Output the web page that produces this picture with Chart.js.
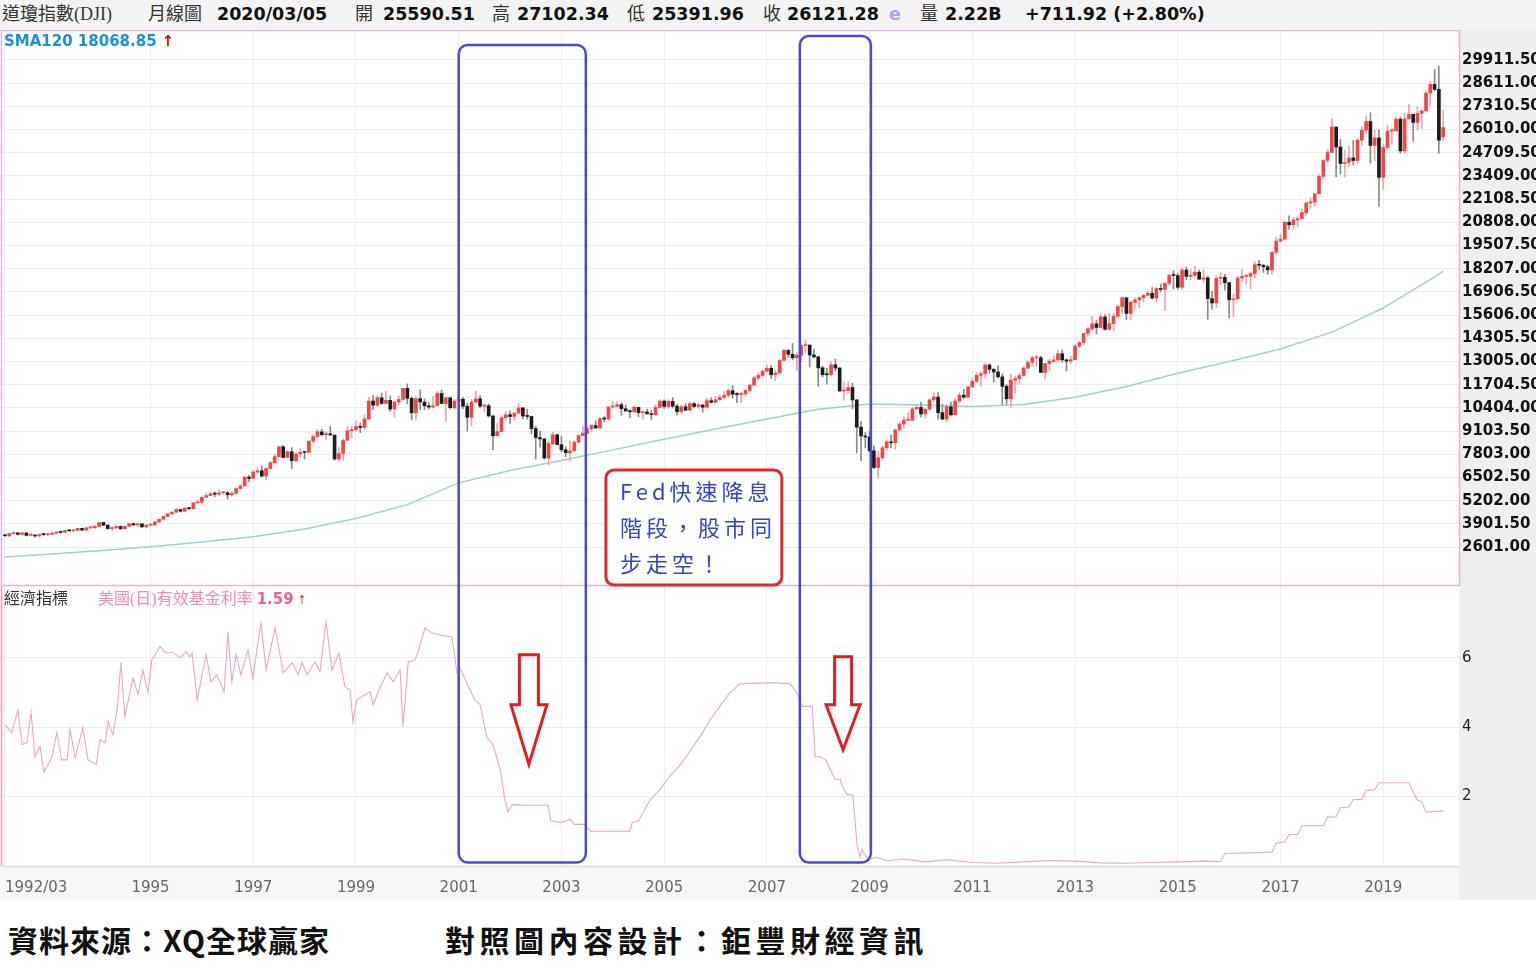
<!DOCTYPE html>
<html>
<head>
<meta charset="utf-8">
<script src="https://cdn.jsdelivr.net/npm/chart.js@4.4.0/dist/chart.umd.min.js"></script>
<style>
body{margin:0;width:1536px;height:968px;background:#fff;overflow:hidden;position:relative;font-family:"DejaVu Sans",sans-serif}
#wrap{position:absolute;left:0;top:0;width:1536px;height:900px}
#head{position:absolute;left:0;top:0;width:1536px;height:30px;background:#f3f3f3}
.t{position:absolute;white-space:nowrap;line-height:28px;top:0}
.ming{font-family:"Liberation Serif","Noto Sans CJK TC",serif;font-size:18px;color:#333}
.num{font-family:"DejaVu Sans",sans-serif;font-weight:bold;font-size:17.5px;color:#111}
.foot{position:absolute;top:917px;font-family:"Noto Sans CJK TC",sans-serif;font-weight:700;font-size:30px;color:#111;white-space:nowrap}
</style>
</head>
<body>
<div id="wrap"><canvas id="chart" width="1536" height="900"></canvas></div>
<div id="head">
  <span class="t ming" style="left:2px">道瓊指數(DJI)</span>
  <span class="t ming" style="left:148px">月線圖</span>
  <span class="t num" style="left:217px">2020/03/05</span>
  <span class="t ming" style="left:355px">開</span>
  <span class="t num" style="left:383px">25590.51</span>
  <span class="t ming" style="left:492px">高</span>
  <span class="t num" style="left:517px">27102.34</span>
  <span class="t ming" style="left:627px">低</span>
  <span class="t num" style="left:652px">25391.96</span>
  <span class="t ming" style="left:763px">收</span>
  <span class="t num" style="left:787px">26121.28</span>
  <span class="t num" style="left:889px;color:#b79af2">e</span>
  <span class="t ming" style="left:920px">量</span>
  <span class="t num" style="left:945px">2.22B</span>
  <span class="t num" style="left:1025px">+711.92 (+2.80%)</span>
</div>
<div class="t" style="left:4px;top:27px;font-weight:bold;font-size:15px;color:#1d8fd6">SMA120 18068.85<span style="color:#e00000"> ↑</span></div>
<div class="t" style="left:4px;top:585px;font-family:'Liberation Serif','Noto Sans CJK TC',serif;font-size:16px;color:#333">經濟指標</div>
<div class="t" style="left:98px;top:585px;font-family:'Liberation Serif','Noto Sans CJK TC',serif;font-size:16px;color:#f08cb6">美國(日)有效基金利率 <span style="font-family:'DejaVu Sans';font-weight:bold;font-size:15px;color:#f0609a">1.59</span><span style="font-weight:bold;color:#e00000"> ↑</span></div>
<div class="foot" style="left:8px;letter-spacing:1px">資料來源：XQ全球贏家</div>
<div class="foot" style="left:445px;letter-spacing:4.5px">對照圖內容設計：鉅豐財經資訊</div>
<script>
// 月線資料：索引 0 = 1992/03，最後一根 = 2020/03
const closes = [
  3236,3359,3397,3319,3394,3257,3272,3226,3305,3301,
  3310,3371,3435,3428,3527,3516,3540,3651,3555,3681,3684,3754,
  3978,3832,3636,3682,3758,3625,3765,3913,3843,3908,3739,3834,
  3844,4011,4158,4321,4465,4556,4709,4611,4789,4756,5075,5117,
  5395,5486,5588,5569,5643,5655,5529,5616,5882,6029,6522,6448,
  6813,6878,6584,7009,7331,7673,8223,7622,7945,7442,7823,7908,
  7907,8546,8800,9063,8900,8952,8883,7539,7843,8592,9117,9181,
  9359,9307,9786,10789,10560,10971,10655,10829,10337,10730,10878,11497,
  10941,10128,10922,10734,10522,10448,10522,11215,10651,10971,10415,10787,
  10887,10495,9879,10735,10912,10502,10523,9950,8848,9075,9852,10022,
  9920,10106,10404,9946,9925,9243,8737,8664,7592,8397,8896,8342,
  8054,7891,7992,8480,8850,8985,9234,9416,9275,9801,9782,10454,
  10488,10584,10358,10226,10188,10435,10140,10174,10080,10027,10428,10783,
  10490,10766,10504,10193,10467,10275,10641,10482,10569,10440,10806,10718,
  10865,10993,11109,11367,11168,11150,11186,11381,11679,12081,12222,12463,
  12622,12269,12354,13063,13628,13409,13212,13358,13896,13930,13372,13265,
  12650,12266,12263,12820,12638,11350,11378,11544,10851,9325,8829,8776,
  8001,7063,7609,8168,8500,8447,9172,9496,9712,9713,10345,10428,
  10067,10325,10857,11009,10137,9774,10466,10015,10788,11118,11006,11578,
  11892,12226,12320,12811,12570,12414,12143,11614,10913,11955,12046,12218,
  12633,12952,13212,13214,12393,12880,13009,13091,13437,13096,13026,13104,
  13861,14054,14579,14840,15116,14910,15500,14810,15130,15546,16086,16577,
  15699,16322,16458,16581,16717,16827,16563,17098,17043,17391,17828,17823,
  17165,18133,17776,17841,18011,17620,17690,16528,16285,17664,17720,17425,
  16466,16517,17685,17774,17787,17930,18432,18401,18308,18142,19124,19763,
  19864,20812,20663,20941,21009,21350,21891,21948,22405,23377,24272,24719,
  26149,25029,24103,24163,24416,24271,25415,25965,26458,25116,25538,23327,
  24999,25916,25929,26593,24815,26600,26864,26403,26917,27046,28051,28538,
  28256,25409,26121.28
];
const highs = [
  3290,3380,3420,3415,3420,3400,3385,3280,3320,3345,
  3340,3450,3485,3480,3555,3560,3575,3660,3660,3700,3720,3800,
  3990,3980,3850,3730,3790,3780,3780,3930,3955,3940,3910,3860,
  3900,4020,4170,4330,4470,4590,4730,4700,4800,4820,5100,5220,
  5400,5630,5700,5690,5800,5730,5700,5730,5920,6120,6550,6620,
  6890,7050,7160,7060,7400,7800,8260,8300,8000,8180,7900,8150,
  7970,8550,8900,9200,9210,9070,9370,8790,8200,8650,9380,9380,
  9650,9560,10010,11000,11110,11080,11230,11330,11080,10780,11090,11500,
  11750,11030,11050,11430,10900,10700,11020,11330,11400,10990,11000,10900,
  11030,11000,10650,10880,11340,11080,10630,10620,10000,9550,9980,10190,
  10240,10150,10670,10440,10340,9940,9380,9100,8700,8550,9050,8920,
  8800,8230,8550,8550,8900,9350,9380,9480,9690,9850,9910,10460,
  10750,10750,10680,10570,10300,10500,10450,10230,10340,10240,10580,10870,
  10860,10850,10980,10600,10560,10650,10700,10700,10680,10580,10940,10980,
  11050,11140,11330,11480,11670,11260,11290,11480,11720,12170,12350,12520,
  12800,12790,12510,13120,13690,13700,14020,13500,14000,14200,13760,13700,
  13300,12750,12620,13010,13140,12670,11870,11870,11790,10880,9650,9030,
  9090,8280,7960,8260,8600,8880,9200,9620,9920,10120,10410,10580,
  10730,10400,10900,11260,11260,10590,10590,10720,10950,11250,11450,11630,
  12040,12390,12420,12880,12880,12600,12760,12310,11720,12280,12190,12330,
  12740,13060,13290,13340,13290,12900,13140,13330,13650,13660,13160,13300,
  13970,14150,14590,14890,15540,15320,15660,15640,15710,15680,16170,16590,
  16590,16400,16600,16630,16740,16960,17150,17150,17350,17400,17890,18100,
  17950,18250,18290,18170,18350,18130,18140,17790,16940,17800,17980,17890,
  17410,16790,17790,18170,17890,18020,18620,18670,18450,18400,19150,19990,
  20130,20850,21170,21070,21110,21540,21930,22180,22420,23490,24330,24880,
  26620,26010,25450,24860,25090,25400,25500,26170,26770,26950,25980,25980,
  25190,26240,26110,26700,26700,26910,27400,26870,27300,27120,28170,28700,
  29370,29570,27102.34
];
const lows = [
  3195,3180,3330,3270,3270,3220,3210,3140,3190,3250,
  3240,3300,3340,3360,3420,3460,3430,3525,3520,3540,3620,3650,
  3740,3800,3590,3520,3620,3610,3620,3740,3820,3740,3670,3680,
  3790,3830,3980,4150,4320,4430,4550,4570,4600,4690,4750,5070,
  5000,5370,5460,5420,5450,5560,5300,5440,5600,5860,6020,6270,
  6430,6700,6530,6390,7000,7250,7670,7600,7600,7000,7390,7650,
  7540,7900,8450,8730,8850,8630,8870,7460,7400,7470,8560,8700,
  9100,9020,9210,9730,10300,10470,10610,10630,10200,9880,10580,10830,
  10640,9730,9730,10300,10300,10330,10420,10600,10650,9650,10340,10300,
  10510,10360,9100,9390,10650,10400,10180,9900,8060,8800,9200,9710,
  9540,9680,10100,9780,9770,8950,7530,8200,7530,7200,8320,8340,
  7940,7670,7420,7990,8430,8900,8930,9070,9270,9300,9600,9700,
  10400,10450,9990,10220,9850,10150,9910,9780,10040,9750,10010,10420,
  10370,10380,10400,10010,10060,10250,10260,10400,10380,10160,10400,10680,
  10660,10830,10900,10990,10960,10700,10700,11050,11300,11670,11950,12140,
  12400,12050,11930,12370,13020,13240,13100,12510,12980,13500,12700,13200,
  11630,12140,11730,12200,12480,11340,10830,11220,10360,7880,7450,8150,
  7910,7000,6470,7500,8020,8170,8080,9120,9250,9680,9680,10330,
  9900,9840,10320,10770,9770,9750,9610,9960,10000,10680,10930,10980,
  11550,11850,11610,12090,12360,11860,12080,10600,10600,10400,11230,11730,
  12200,12600,12740,12710,12390,12030,12490,12980,13070,12970,12470,12880,
  13100,13780,13940,14410,14730,14550,14890,14760,14780,14720,15480,15700,
  15340,15340,16000,16020,16330,16650,16500,16330,16900,15860,17280,17070,
  17040,17040,17590,17590,17730,17590,17460,15370,15940,16020,17320,17000,
  15450,15500,16450,17480,17330,17060,17710,18170,17990,17880,17880,19020,
  19680,19830,20410,20380,20550,20990,21200,21600,21710,22420,23240,24140,
  24720,23360,23510,23340,23920,24020,24080,25120,25820,24120,24270,21710,
  22640,24890,25200,25980,24680,24680,26640,25340,25980,26050,27080,27320,
  28170,24680,25391.96
];
const firstOpen = 3267;
const lastOpen = 25590.51;

// SMA120（讀圖取點）
const smaMonth = [0,10,22,34,46,58,70,82,94,106,118,130,142,154,166,178,190,202,214,226,238,250,262,274,286,298,310,322,334,336];
const smaValue = [2050,2200,2400,2620,2880,3180,3620,4200,4980,6200,6900,7450,8050,8650,9220,9780,10330,10620,10560,10480,10600,11000,11600,12350,13000,13700,14650,16000,17750,18068.85];

// 美國有效基金利率（讀圖取點，x 為 1992/03 起的月數）
const rateMonth = [0,1.6,3.0,4.0,5.1,6.1,7.0,8.2,9.1,11.0,12.1,13.3,14.5,15.2,16.4,18.2,19.4,21.3,22.2,23.4,24.1,25.2,26.2,27.1,28.0,29.9,31.1,32.2,33.4,34.3,36.2,37.6,39.0,40.9,42.3,43.2,43.7,44.9,47.0,48.1,49.5,51.2,52.1,53.0,54.0,55.1,56.8,57.9,59.8,61.0,63.1,65.0,67.1,68.5,69.4,70.6,72.4,73.6,75.0,76.4,78.0,79.4,80.6,81.3,82.2,85.3,86.0,87.6,89.3,90.7,92.3,93.0,94.2,95.8,96.5,98.1,99.8,101.6,104.4,105.6,106.3,108.6,
  109.8,111,112.6,114,115.7,116.8,117.5,118.5,122,126.9,127.5,130,132,133,135.5,136.7,146,146.5,148,150.7,153,155.4,158,160,162.5,164.7,167,169.4,171.7,176,180,183.4,185,186.2,188.6,189.3,190.4,191.8,193.9,195.1,195.6,196.8,198.1,199.1,199.8,200.2,201.6,203.7,206,210,215,220,226,232,238,244,250,256,262,268,274,280,284,285,296,297,299,300,302,303,308,309,311,312,314,315,317,318,320,321,327,328,329,330,331,332,336];
const rateValue = [4.07,3.84,4.50,3.50,3.55,4.42,3.15,3.44,2.70,3.15,3.84,3.06,3.06,3.93,3.12,3.99,3.06,2.92,3.64,3.55,4.16,3.78,4.50,5.88,4.30,5.42,4.94,5.65,5.00,5.94,6.32,6.14,6.17,6.00,6.17,6.03,6.14,4.79,6.09,5.31,5.51,5.02,6.75,5.31,6.09,5.51,6.23,5.42,7.01,5.65,6.86,5.57,5.86,5.51,5.86,5.51,5.88,5.60,7.04,5.65,6.14,5.17,5.08,4.16,4.79,5.02,4.65,5.14,5.57,5.31,5.65,4.01,5.88,5.94,6.17,6.86,6.72,6.66,6.60,5.57,5.71,5.08,
  4.79,4.65,3.70,3.50,2.78,1.90,1.57,1.77,1.75,1.75,1.30,1.25,1.35,1.20,1.20,1.00,1.00,1.25,1.30,1.90,2.20,2.60,2.95,3.30,3.75,4.20,4.60,5.00,5.25,5.27,5.28,5.25,5.00,4.60,4.60,3.15,3.15,3.05,2.50,2.50,2.30,2.05,2.05,0.57,0.27,0.47,0.19,0.25,0.15,0.20,0.12,0.18,0.10,0.08,0.12,0.16,0.14,0.09,0.08,0.10,0.12,0.14,0.13,0.36,0.40,0.66,0.70,0.91,0.91,1.16,1.16,1.41,1.42,1.68,1.70,1.91,1.92,2.18,2.20,2.40,2.40,2.40,2.13,1.90,1.85,1.55,1.59];

// 座標軸刻度
const priceTicks = [2601.00,3901.50,5202.00,6502.50,7803.00,9103.50,10404.00,11704.50,13005.00,14305.50,15606.00,16906.50,18207.00,19507.50,20808.00,22108.50,23409.00,24709.50,26010.00,27310.50,28611.00,29911.50];
const rateTicks = [2,4,6];
const xTickMonths = [0,34,58,82,106,130,154,178,202,226,250,274,298,322];
const xTickLabels = ['1992/03','1995','1997','1999','2001','2003','2005','2007','2009','2011','2013','2015','2017','2019'];

// 標註
const focusBoxes = [{from:106.0, to:135.7, top:30750}, {from:185.7, to:202.3, top:31250}];
const noteBox = {from:140.4, to:181.5, top:6920, lines:['Fed快速降息','階段，股市同','步走空！']};
const downArrows = [{at:122.4, top:6.09, neck:4.65, tip:2.93, sw:9.5, hw:18}, {at:195.8, top:6.03, neck:4.65, tip:3.35, sw:8.5, hw:17}];

const opens = closes.map((c, i) => i === 0 ? firstOpen : closes[i - 1]);
opens[opens.length - 1] = lastOpen;
const isUp = closes.map((c, i) => c >= opens[i]);
const wickPts = closes.map((c, i) => ({x: i, y: [lows[i], highs[i]]}));
const bodyPts = closes.map((c, i) => ({x: i, y: [opens[i], c]}));
const smaPts = smaMonth.map((m, i) => ({x: m, y: smaValue[i]}));
const ratePts = rateMonth.map((m, i) => ({x: m, y: rateValue[i]}));

function roundRect(ctx, x, y, w, h, r) {
    ctx.beginPath();
    ctx.moveTo(x + r, y);
    ctx.arcTo(x + w, y, x + w, y + h, r);
    ctx.arcTo(x + w, y + h, x, y + h, r);
    ctx.arcTo(x, y + h, x, y, r);
    ctx.arcTo(x, y, x + w, y, r);
    ctx.closePath();
}

const overlay = {
    id: 'overlay',
    beforeDraw(chart) {
        const {ctx, chartArea: a, width, height} = chart;
        ctx.save();
        ctx.fillStyle = '#fff';
        ctx.fillRect(0, 0, width, height);
        ctx.fillStyle = '#efefef';
        ctx.fillRect(a.right, 0, width - a.right, height);
        ctx.fillStyle = '#f7f7f7';
        ctx.fillRect(0, a.bottom, a.right, height - a.bottom);
        ctx.restore();
    },
    afterDraw(chart) {
        const {ctx, chartArea: a} = chart;
        const xs = chart.scales.x, yp = chart.scales.yPrice, yr = chart.scales.yRate;
        ctx.save();
        // X 軸文字（第一個靠左）
        ctx.fillStyle = '#666';
        ctx.font = '15px "DejaVu Sans"';
        ctx.textBaseline = 'middle';
        xTickMonths.forEach((m, i) => {
            ctx.textAlign = i === 0 ? 'left' : 'center';
            ctx.fillText(xTickLabels[i], xs.getPixelForValue(m), a.bottom + 22);
        });
        ctx.textAlign = 'left';

        // 邊框
        ctx.strokeStyle = '#e2b2e2';
        ctx.lineWidth = 1.5;
        ctx.strokeRect(a.left - 0.5, a.top - 0.5, a.right - a.left + 1, yp.bottom - a.top);
        ctx.strokeStyle = '#dddddd';
        ctx.beginPath();
        ctx.moveTo(a.left, a.bottom + 0.5); ctx.lineTo(a.right, a.bottom + 0.5);
        ctx.stroke();
        ctx.strokeStyle = '#e8a0a8';
        ctx.beginPath();
        ctx.moveTo(a.left - 0.5, yr.top); ctx.lineTo(a.left - 0.5, a.bottom);
        ctx.stroke();

        // 藍框
        ctx.strokeStyle = '#4a4ad0';
        ctx.lineWidth = 2.5;
        focusBoxes.forEach(b => {
            const x1 = xs.getPixelForValue(b.from), x2 = xs.getPixelForValue(b.to);
            const y1 = yp.getPixelForValue(b.top), y2 = yr.getPixelForValue(0.1);
            roundRect(ctx, x1, y1, x2 - x1, y2 - y1, 9);
            ctx.stroke();
        });

        // 紅色文字框
        const nx1 = xs.getPixelForValue(noteBox.from), nx2 = xs.getPixelForValue(noteBox.to);
        const ny1 = yp.getPixelForValue(noteBox.top), ny2 = yp.bottom - 1;
        roundRect(ctx, nx1, ny1, nx2 - nx1, ny2 - ny1, 8);
        ctx.fillStyle = '#fff';
        ctx.fill();
        ctx.strokeStyle = '#e02830';
        ctx.lineWidth = 3;
        ctx.stroke();
        ctx.fillStyle = '#3546c4';
        ctx.font = '22px "Noto Sans CJK TC"';
        ctx.textBaseline = 'middle';
        ctx.letterSpacing = '4px';
        noteBox.lines.forEach((s, i) => ctx.fillText(s, nx1 + 14, ny1 + 22 + i * 36));
        ctx.letterSpacing = '0px';

        // 紅色空心箭頭
        ctx.strokeStyle = '#e02020';
        ctx.lineWidth = 3;
        ctx.lineJoin = 'miter';
        downArrows.forEach(d => {
            const cx = xs.getPixelForValue(d.at);
            const t = yr.getPixelForValue(d.top), n = yr.getPixelForValue(d.neck), p = yr.getPixelForValue(d.tip);
            ctx.beginPath();
            ctx.moveTo(cx - d.sw, t); ctx.lineTo(cx + d.sw, t); ctx.lineTo(cx + d.sw, n);
            ctx.lineTo(cx + d.hw, n); ctx.lineTo(cx, p); ctx.lineTo(cx - d.hw, n);
            ctx.lineTo(cx - d.sw, n); ctx.closePath();
            ctx.stroke();
        });
        ctx.restore();
    }
};

new Chart(document.getElementById('chart'), {
    type: 'bar',
    data: {
        datasets: [
            {type: 'line', label: 'SMA120', data: smaPts, yAxisID: 'yPrice', borderColor: '#9ccfdc', borderWidth: 1.5, pointRadius: 0, order: 4},
            {label: 'wick', data: wickPts, yAxisID: 'yPrice', backgroundColor: isUp.map(u => u ? '#f2a4a4' : '#8a8a8a'), barThickness: 1, grouped: false, order: 3},
            {label: 'body', data: bodyPts, yAxisID: 'yPrice', backgroundColor: isUp.map(u => u ? '#ef4646' : '#1c1c1c'), barThickness: 3, minBarLength: 1, grouped: false, order: 2},
            {type: 'line', label: '美國(日)有效基金利率', data: ratePts, yAxisID: 'yRate', borderColor: '#e9a6c6', borderWidth: 1.1, pointRadius: 0, order: 1}
        ]
    },
    options: {
        responsive: false,
        animation: false,
        layout: {padding: {top: 31, left: 2, right: 0, bottom: 0}},
        plugins: {legend: {display: false}, tooltip: {enabled: false}},
        scales: {
            x: {
                type: 'linear', min: -0.7, max: 339.7, offset: false,
                grid: {color: '#ececec', drawTicks: false, offset: false},
                border: {display: false},
                afterBuildTicks: s => { s.ticks = xTickMonths.map(v => ({value: v})); },
                afterFit: s => { s.height = 34; },
                ticks: {display: false}
            },
            yPrice: {
                type: 'linear', position: 'right', stack: 'v', stackWeight: 555,
                min: 420, max: 31530,
                grid: {color: '#ececec', drawTicks: false},
                border: {display: false},
                afterBuildTicks: s => { s.ticks = priceTicks.map(v => ({value: v})); },
                afterFit: s => { s.width = 77; },
                ticks: {
                    callback: v => v.toFixed(2), padding: 3, autoSkip: false,
                    color: '#111', font: {family: 'DejaVu Sans', size: 15, weight: 'bold'}
                }
            },
            yRate: {
                type: 'linear', position: 'right', stack: 'v', stackWeight: 280,
                min: 0, max: 8.07,
                grid: {color: '#ececec', drawTicks: false},
                border: {display: false},
                afterBuildTicks: s => { s.ticks = rateTicks.map(v => ({value: v})); },
                afterFit: s => { s.width = 77; },
                ticks: {
                    callback: v => String(v), padding: 3, autoSkip: false,
                    color: '#222', font: {family: 'DejaVu Sans', size: 15}
                }
            }
        }
    },
    plugins: [overlay]
});
</script>
</body>
</html>
